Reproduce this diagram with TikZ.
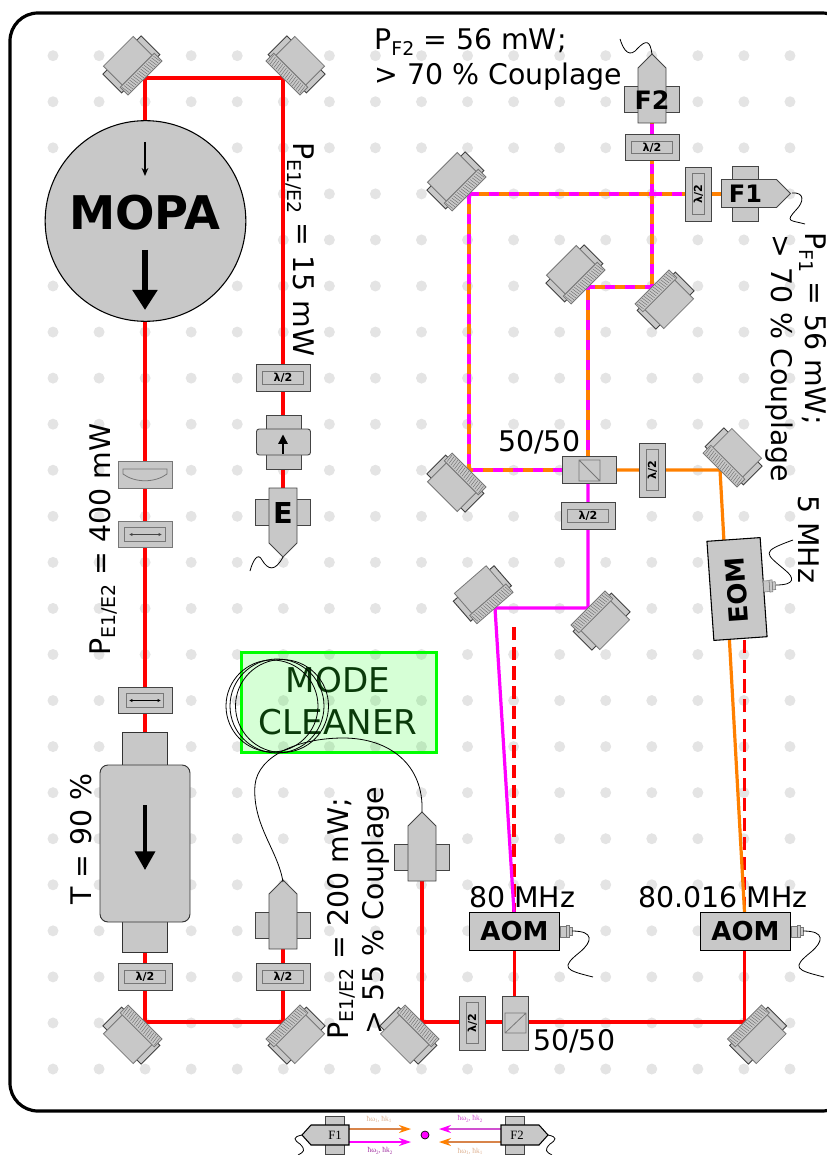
\documentclass[tikz,border=0pt]{standalone}
\usepackage{fontspec}
\setmainfont{DejaVu Sans}
\newfontfamily\serifinset{Liberation Serif}
\usetikzlibrary{arrows.meta}
\definecolor{part}{HTML}{C8C8C8}
\definecolor{dotc}{HTML}{E4E4E4}
\definecolor{edge}{HTML}{444444}
\definecolor{inner}{HTML}{777777}
\definecolor{beamo}{HTML}{FF8000}
\definecolor{beamm}{HTML}{FF00FF}
\definecolor{beamr}{HTML}{FF0000}
\definecolor{tano}{HTML}{D8844A}
\definecolor{pinkm}{HTML}{D050D0}
\definecolor{palet}{HTML}{DDB090}
\definecolor{purpl}{HTML}{A030A0}
\definecolor{mcg}{HTML}{00FF00}
\definecolor{mctext}{HTML}{0A3A0A}
\newcommand{\biglab}{\fontsize{21.3}{25}\selectfont}
\newcommand{\subs}[1]{\raisebox{-0.2em}{\fontsize{14.2}{16}\selectfont #1}}
\newcommand{\wplab}{\fontsize{8.3}{10}\selectfont\bfseries}
\newcommand{\inlab}[2]{\serifinset\fontsize{5.6}{7}\selectfont ħω\raisebox{-.2em}{\fontsize{3.8}{4}\selectfont #1}, ħk\raisebox{-.2em}{\fontsize{3.8}{4}\selectfont #2}}
\tikzset{
  beam/.style={line width=2.4pt},
  rbeam/.style={beam,draw=beamr},
  obeam/.style={beam,draw=beamo},
  mbeam/.style={beam,draw=beamm},
  mixbeam/.style={beam,draw=beamm,dash pattern=on 7.5pt off 7.5pt},
  rdash/.style={beam,draw=beamr,dash pattern=on 9.8pt off 5pt},
  comp/.style={fill=part,draw=edge,line width=.7pt},
  compg/.style={fill=part,draw=inner,line width=.6pt},
  wpbox/.style={comp,minimum width=40.5pt,minimum height=20pt,inner sep=0pt},
  wpin/.style={draw=inner,line width=.6pt,minimum width=30.5pt,minimum height=9.2pt,inner sep=0pt,font=\wplab},
  wire/.style={draw=black,line width=.6pt},
  toplab/.style={font=\biglab,inner sep=0pt,text=black},
  boldlab/.style={font=\bfseries,inner sep=0pt,text=black},
  aombox/.style={fill=part,draw=black,line width=.8pt,minimum width=68pt,minimum height=29pt,inner sep=0pt},
  mirrorpic/.pic={
    \draw[comp,draw=black!75] (-27,6) rectangle (27,32.5);
    \draw[compg] (-21,11) rectangle (21,37.7);
    \draw[compg] (-24,0) rectangle (24,11);
    \foreach \u in {-22,-19.4,...,22.5}{\draw[draw=edge!80,line width=.3pt] (\u-.6,1) -- (\u+.6,9.5);}
  },
  fiberpic/.pic={
    \draw[compg,draw=edge] (-27.5,-13) rectangle (27.5,13);
    \draw[comp] (-14,24) -- (-14,-31) -- (0,-45) -- (14,-31) -- (14,24) -- cycle;
  },
  connpic/.pic={
    \draw[compg,line width=.4pt] (0,-5.5) rectangle (6,5.5);
    \draw[compg,line width=.4pt] (6,-6) rectangle (9,6);
    \draw[compg,line width=.4pt] (9,-4) rectangle (12,4);
  },
  insetf/.pic={
    \draw[compg,draw=edge] (-9.5,-19) rectangle (9.5,19);
    \draw[comp,draw=black,line width=.8pt] (14,-10) -- (-24,-10) -- (-33,0) -- (-24,10) -- (14,10) -- cycle;
  }
}
\begin{document}
\begin{tikzpicture}[x=0.75pt,y=-0.75pt]
\useasboundingbox (0,0) rectangle (827,1155);
\clip (0,0) rectangle (827,1155);
% positions
\coordinate (m1) at (145,78); \coordinate (m2) at (283,78);
\coordinate (m3) at (145,1022); \coordinate (m4) at (283,1022);
\coordinate (m5) at (422,1022); \coordinate (m6) at (744.5,1022);
\coordinate (m7) at (469,194); \coordinate (m8) at (469,470);
\coordinate (m9) at (588,287); \coordinate (m10) at (652,287);
\coordinate (m11) at (720,470); \coordinate (m12) at (495,608);
\coordinate (m13) at (588,608);
\coordinate (bsa) at (588,470); \coordinate (bsb) at (514.5,1023);
\coordinate (aoma) at (514.5,931.5); \coordinate (aomb) at (744.5,931.5);
\coordinate (fe) at (283,512); \coordinate (fa) at (283,925);
\coordinate (fb) at (422,857); \coordinate (ftwo) at (652,99);
\coordinate (fone) at (745.5,193.5); \coordinate (isosmall) at (283,442);
\coordinate (iso) at (145,843); \coordinate (mopa) at (145.5,221);
\coordinate (eom) at (737,589);
\coordinate (fonein) at (722,194);
\coordinate (jtop) at (652,194);
\coordinate (eomtop) at (744.5,912); \coordinate (aomtopa) at (514,912);
\coordinate (da) at (514,627); \coordinate (db) at (744.5,640);
% pegboard dots
\foreach \i in {0,...,16}{\foreach \j in {0,...,22}{
  \fill[dotc] ({53+46.06*\i},{55.7+46.06*\j}) circle (5.5);}}
% enclosure
\draw[black,line width=2.4pt,rounded corners=21pt] (10,13) rectangle (850,1111);
% beams
\draw[rbeam] (145,221) -- (m1) -- (m2) -- (fe);
\draw[rbeam] (145,221) -- (iso) -- (m3) -- (m4) -- (fa);
\draw[rbeam] (fb) -- (m5) -- (m6) -- (aomb);
\draw[rbeam] (bsb) -- (aoma);
\draw[rdash] (da) -- (aomtopa);
\draw[rdash] (db) -- (eomtop);
\draw[obeam] (bsa) -- (m11) -- (eomtop);
\draw[mbeam] (bsa) -- (m13) -- (m12) -- (aomtopa);
\draw[obeam] (fonein) -- (m7) -- (m8) -- (bsa);
\draw[obeam] (ftwo) -- (m10) -- (m9) -- (bsa);
\draw[mixbeam] (m7) -- (jtop);
\draw[mixbeam] (jtop) -- (685,194);
\draw[mixbeam] (m7) -- (m8) -- (bsa);
\draw[mixbeam] (bsa) -- (m9) -- (m10) -- (ftwo);
% mirrors
\pic[rotate=-135] at (m1) {mirrorpic};
\pic[rotate=135] at (m2) {mirrorpic};
\pic[rotate=-45] at (m3) {mirrorpic};
\pic[rotate=45] at (m4) {mirrorpic};
\pic[rotate=-45] at (m5) {mirrorpic};
\pic[rotate=45] at (m6) {mirrorpic};
\pic[rotate=-135] at (m7) {mirrorpic};
\pic[rotate=-45] at (m8) {mirrorpic};
\pic[rotate=-135] at (m9) {mirrorpic};
\pic[rotate=45] at (m10) {mirrorpic};
\pic[rotate=135] at (m11) {mirrorpic};
\pic[rotate=-139] at (m12) {mirrorpic};
\pic[rotate=45] at (m13) {mirrorpic};
% MOPA
\node[fill=part,draw=black,line width=.8pt,circle,minimum size=150.5pt,inner sep=0pt] (mopac) at (mopa) {};
\node[boldlab,font=\fontsize{34.8}{36}\selectfont\bfseries] (mopat) at (145,213) {MOPA};
\coordinate (sa1) at (145,142); \coordinate (sa2) at (145,176);
\coordinate (ba1) at (145,250); \coordinate (ba2) at (145,310);
\draw[black,line width=.9pt,-{Stealth[length=6pt,width=5pt]}] (sa1) -- (sa2);
\draw[black,line width=4.4pt,-{Triangle[length=15pt,width=18pt]}] (ba1) -- (ba2);
% left column
\node[wpbox,compg] (lens) at (145,475) {};
\draw[draw=inner,line width=.6pt] (123,469) -- (167,469) -- (167,474) .. controls (155,483) and (135,483) .. (123,474) -- cycle;
\node[wpbox,compg] (pola) at (145,534.5) {};
\node[draw=inner,line width=.6pt,minimum width=31pt,minimum height=10pt,inner sep=0pt] (polai) at (pola) {};
\coordinate (pa1) at (129,534.5); \coordinate (pa2) at (162,534.5);
\draw[edge,line width=.5pt,{Latex[length=2.5pt,width=2.5pt]}-{Latex[length=2.5pt,width=2.5pt]}] (pa1) -- (pa2);
\node[wpbox] (polb) at (145,700.5) {};
\node[draw=inner,line width=.6pt,minimum width=28pt,minimum height=10pt,inner sep=0pt] (polbi) at (polb) {};
\coordinate (pb1) at (129,700.5); \coordinate (pb2) at (161,700.5);
\draw[black,line width=.5pt,{Latex[length=2.5pt,width=2.5pt]}-{Latex[length=2.5pt,width=2.5pt]}] (pb1) -- (pb2);
% big isolator
\draw[comp,draw=black!80] (122.5,732) rectangle (167,952);
\draw[comp,draw=black!80,rounded corners=6pt] (100,765) rectangle (190,922);
\coordinate (ia1) at (145,805); \coordinate (ia2) at (145,870);
\draw[black,line width=2.6pt,-{Triangle[length=14pt,width=15pt]}] (ia1) -- (ia2);
% half-wave plates
\foreach \n/\p in {h1/{283,378},h2/{145,977},h3/{283,977},h4/{652,147.5},h5/{588,516}}{
  \node[wpbox] (\n) at (\p) {};
  \node[wpin] at (\n) {λ/2};}
\foreach \n/\p in {h6/{698.5,194},h7/{652.5,470},h8/{472.5,1023}}{
  \node[wpbox,rotate=90] (\n) at (\p) {};
  \node[wpin,rotate=90] at (\n) {λ/2};}
% small isolator
\draw[comp] (266,415) rectangle (301,469);
\draw[comp,rounded corners=2pt] (256.5,429) rectangle (310.5,455);
\coordinate (ib1) at (283,453.5); \coordinate (ib2) at (283,434.5);
\draw[black,line width=1pt,-{Triangle[length=7pt,width=7pt]}] (ib1) -- (ib2);
% fibre couplers
\pic[rotate=180] at (fe) {fiberpic};
\pic at (fa) {fiberpic};
\pic at (fb) {fiberpic};
\pic at (ftwo) {fiberpic};
\pic[rotate=-90] at (fone) {fiberpic};
\node[boldlab,font=\fontsize{21.6}{24}\selectfont\bfseries] (te) at (283,513) {E};
\node[boldlab,font=\fontsize{19}{22}\selectfont\bfseries] (tf2) at (652,100) {F2};
\node[boldlab,font=\fontsize{18}{22}\selectfont\bfseries] (tf1) at (745.5,194) {F1};
\draw[wire] (283,557) .. controls (275,572) and (268,570) .. (262,560) .. controls (258,552) and (253,560) .. (250,571);
\draw[wire] (652,54) .. controls (650,40) and (646,40) .. (638,48) .. controls (630,58) and (624,52) .. (620,39);
\draw[wire] (792,193) .. controls (805,192) and (804,202) .. (796,210) .. controls (785,222) and (790,220) .. (805,224);
% mode cleaner
\node[draw=mcg,line width=2.2pt,fill=mcg,fill opacity=.16,draw opacity=1,minimum width=146pt,minimum height=75.5pt,inner sep=0pt] (mc) at (339.2,702.5) {};
\node[font=\fontsize{25.6}{31.5}\selectfont,text=mctext,align=center,inner sep=0pt] (mct) at (338,701) {MODE\\CLEANER};
\draw[wire] (272,706) circle (46);
\draw[wire] (277,706) circle (47);
\draw[wire] (282,706) circle (46.5);
\draw[wire] (283,882) .. controls (278,850) and (252,825) .. (255,785) .. controls (258,755) and (300,738) .. (343,738) .. controls (390,738) and (424,765) .. (422,812);
% beam splitters
\node[wpbox] (bs1) at (589.5,470) {};
\draw[draw=inner,line width=.6pt] (579,460) rectangle (600,481) (579,460) -- (600,481);
\node[wpbox,rotate=90] (bs2) at (515.5,1023) {};
\draw[draw=inner,line width=.6pt] (505,1013) rectangle (526,1033) (505,1033) -- (526,1013);
% AOMs
\node[aombox] (aoa) at (514.5,931.5) {};
\node[aombox] (aob) at (745.5,931.5) {};
\foreach \n in {aoa,aob}{
  \node[boldlab,font=\fontsize{19.5}{22}\selectfont\bfseries] at (\n) {AOM};
  \pic at (\n.east) {connpic};}
\draw[wire] (572,931) .. controls (595,931) and (592,942) .. (580,952) .. controls (560,968) and (565,970) .. (593,977);
\draw[wire] (803,931) .. controls (826,931) and (823,942) .. (811,952) .. controls (791,968) and (796,970) .. (824,977);
% EOM
\node[fill=part,draw=black,line width=.8pt,minimum width=40pt,minimum height=74.5pt,inner sep=0pt,rotate=4] (eomb) at (eom) {};
\node[boldlab,font=\fontsize{19.5}{22}\selectfont\bfseries,rotate=94] (eomt) at (736.5,590) {EOM};
\pic[rotate=4] at (763.5,586.5) {connpic};
\draw[wire] (776,585) .. controls (795,585) and (795,578) .. (785,570) .. controls (765,553) and (760,552) .. (793,540);
% labels
\node[toplab,anchor=base west] (l1) at (374,50) {P\subs{F2} = 56 mW;};
\node[toplab,anchor=base west] (l2) at (374,85) {> 70 \% Couplage};
\node[toplab,anchor=base west,rotate=-90] (l3) at (293,142) {P\subs{E1/E2} = 15 mW};
\node[toplab,anchor=base west,rotate=-90] (l4) at (805,232) {P\subs{F1} = 56 mW;};
\node[toplab,anchor=base west,rotate=-90] (l5) at (771,234) {> 70 \% Couplage};
\node[toplab,anchor=base west,rotate=-90] (l6) at (798,495) {5 MHz};
\node[toplab,anchor=base west,rotate=90] (l7) at (110,656) {P\subs{E1/E2} = 400 mW};
\node[toplab,anchor=base west,rotate=90] (l8) at (91,905) {T = 90 \%};
\node[toplab,anchor=base west,rotate=90] (l9) at (348,1040) {P\subs{E1/E2} = 200 mW;};
\node[toplab,anchor=base west,rotate=90] (l10) at (383,1035) {> 55 \% Couplage};
\node[toplab,anchor=base west] (l11) at (498,451) {50/50};
\node[toplab,anchor=base west] (l12) at (533,1050) {50/50};
\node[toplab,anchor=base west] (l13) at (469,907) {80 MHz};
\node[toplab,anchor=base west] (l14) at (638,907) {80.016 MHz};
% inset
\coordinate (inf1) at (335,1135); \coordinate (inf2) at (515,1135);
\coordinate (inc) at (425,1135);
\coordinate (a1s) at (349,1129); \coordinate (a1e) at (411,1129);
\coordinate (a2s) at (349,1142); \coordinate (a2e) at (411,1142);
\coordinate (a3s) at (502,1129); \coordinate (a3e) at (439,1129);
\coordinate (a4s) at (502,1142); \coordinate (a4e) at (439,1142);
\draw[tano,line width=1.2pt,-{Stealth[length=9pt,width=6pt,color=beamo]}] (a1s) -- (a1e);
\draw[beamm,line width=1.2pt,-{Stealth[length=9pt,width=6pt]}] (a2s) -- (a2e);
\draw[pinkm,line width=1.2pt,-{Stealth[length=9pt,width=6pt,color=beamm]}] (a3s) -- (a3e);
\draw[tano,line width=1.2pt,-{Stealth[length=9pt,width=6pt,color=beamo]}] (a4s) -- (a4e);
\pic at (inf1) {insetf};
\pic[xscale=-1] at (inf2) {insetf};
\node[inner sep=0pt,font=\serifinset\fontsize{9.5}{11}\selectfont] (tif1) at (335,1135) {F1};
\node[inner sep=0pt,font=\serifinset\fontsize{9.5}{11}\selectfont] (tif2) at (517,1135) {F2};
\node[circle,fill=beamm,draw=black,line width=.5pt,minimum size=6pt,inner sep=0pt] (dotm) at (inc) {};
\node[inner sep=0pt,text=palet] (q1) at (379,1119.5) {\inlab{1}{1}};
\node[inner sep=0pt,text=purpl] (q2) at (380,1151) {\inlab{2}{2}};
\node[inner sep=0pt,text=pinkm] (q3) at (470,1119) {\inlab{2}{2}};
\node[inner sep=0pt,text=palet] (q4) at (470,1151.5) {\inlab{1}{1}};
\draw[wire] (302,1135) .. controls (292,1137) and (294,1140) .. (300,1144) .. controls (306,1150) and (304,1152) .. (298,1155);
\draw[wire] (548,1135) .. controls (558,1137) and (556,1140) .. (550,1144) .. controls (544,1150) and (546,1152) .. (552,1155);
\end{tikzpicture}
\end{document}
